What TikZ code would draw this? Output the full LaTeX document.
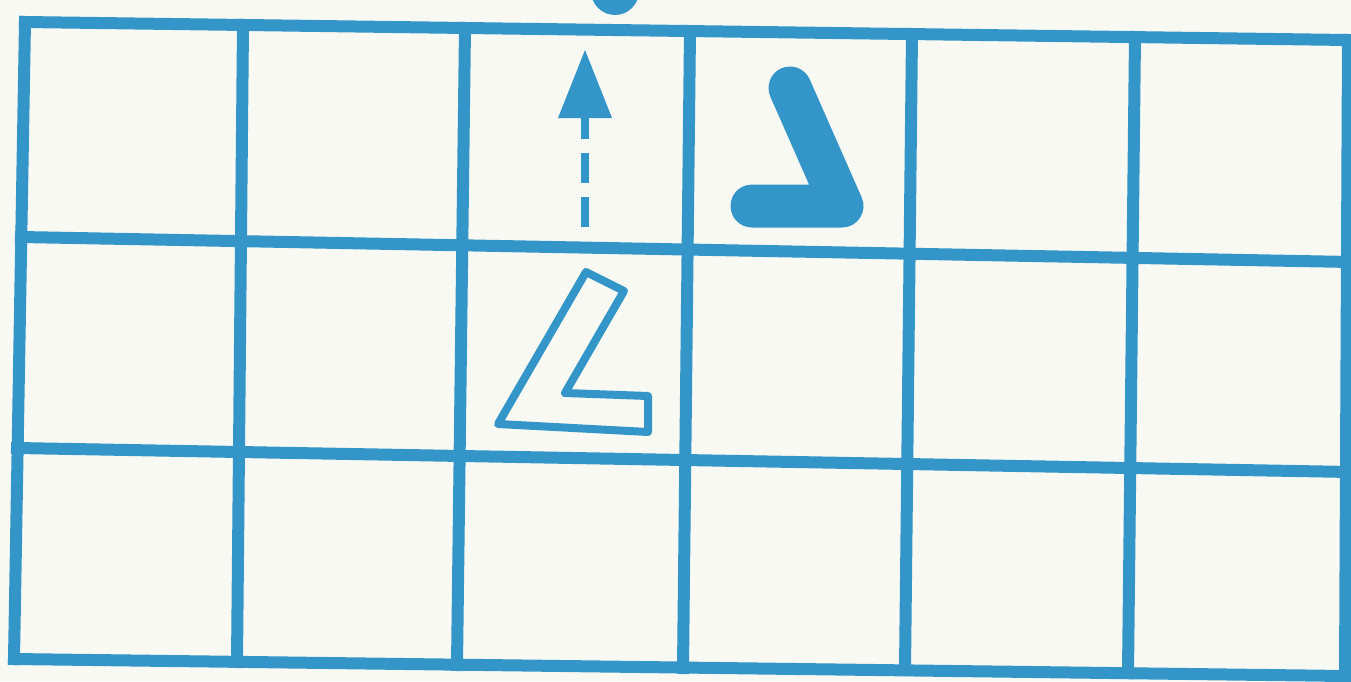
\documentclass[tikz,border=0pt]{standalone}
\usepackage{tikz}
\definecolor{gridblue}{RGB}{52,150,200}
\definecolor{paper}{RGB}{249,249,244}
\tikzset{
  gridline/.style={draw=gridblue, line width=6pt, line cap=rect},
  outline/.style={draw=gridblue, line width=4pt, line join=round},
  boomer/.style={draw=gridblue, line width=21.5pt, line cap=round, line join=round},
  dashline/.style={draw=gridblue, line width=4pt, dash pattern=on 15pt off 7pt},
  tipfill/.style={fill=gridblue},
}
\begin{document}
\begin{tikzpicture}[x=0.5pt,y=-0.5pt]
\useasboundingbox (0,0) rectangle (1351,681);
\fill[paper] (0,0) rectangle (1351,681);
\begin{scope}
\clip (0,0) rectangle (1351,681);
% partial blob at top
\fill[gridblue] (615,-9) circle (24);
% horizontal grid lines
\coordinate (h0l) at (25,22);  \coordinate (h0r) at (1348,40);
\coordinate (h1l) at (21,237); \coordinate (h1r) at (1351,262);
\coordinate (h2l) at (17,448); \coordinate (h2r) at (1351,472);
\coordinate (h3l) at (14,659); \coordinate (h3r) at (1345,676);
\draw[gridline] (h0l) -- (h0r);
\draw[gridline] (h1l) -- (h1r);
\draw[gridline] (h2l) -- (h2r);
\draw[gridline] (h3l) -- (h3r);
% vertical grid lines
\coordinate (v0t) at (25,22);   \coordinate (v0b) at (14,659);
\coordinate (v1t) at (243,25);  \coordinate (v1b) at (237,662);
\coordinate (v2t) at (465,28);  \coordinate (v2b) at (457,665);
\coordinate (v3t) at (690,31);  \coordinate (v3b) at (683,668);
\coordinate (v4t) at (912,34);  \coordinate (v4b) at (905,670);
\coordinate (v5t) at (1135,37); \coordinate (v5b) at (1128,673);
\coordinate (v6t) at (1348,40); \coordinate (v6b) at (1345,676);
\draw[gridline] (v0t) -- (v0b);
\draw[gridline] (v1t) -- (v1b);
\draw[gridline] (v2t) -- (v2b);
\draw[gridline] (v3t) -- (v3b);
\draw[gridline] (v4t) -- (v4b);
\draw[gridline] (v5t) -- (v5b);
\draw[gridline] (v6t) -- (v6b);
\end{scope}
% dashed arrow
\coordinate (arrs) at (585,227);
\coordinate (arre) at (585,118);
\coordinate (tip) at (585,50);
\coordinate (tipl) at (558,118);
\coordinate (tipr) at (612,118);
\draw[dashline] (arrs) -- (arre);
\fill[tipfill] (tip) -- (tipl) -- (tipr) -- cycle;
% filled boomerang
\coordinate (b1) at (790,88);
\coordinate (b2) at (842,206);
\coordinate (b3) at (752,206);
\draw[boomer] (b1) -- (b2) -- (b3);
% hollow L shape
\coordinate (l1) at (586,272);
\coordinate (l2) at (624,291);
\coordinate (l3) at (565,393);
\coordinate (l4) at (648,396);
\coordinate (l5) at (648,432);
\coordinate (l6) at (498,424);
\draw[outline] (l1) -- (l2) -- (l3) -- (l4) -- (l5) -- (l6) -- cycle;
\end{tikzpicture}
\end{document}
